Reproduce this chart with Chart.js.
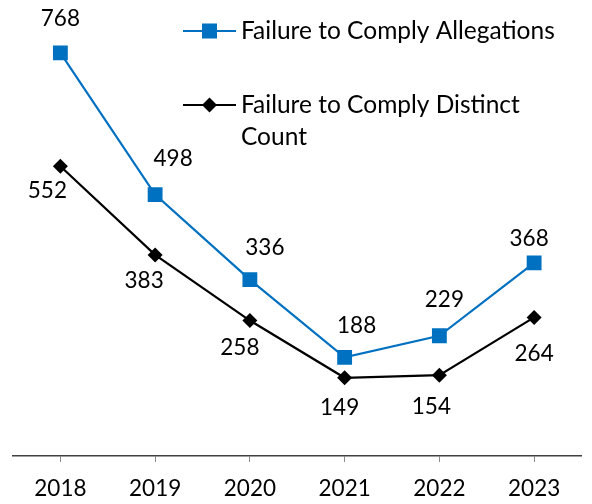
<!DOCTYPE html>
<html>
<head>
<meta charset="utf-8">
<script src="https://cdn.jsdelivr.net/npm/chart.js@4/dist/chart.umd.min.js"></script>
<style>
html,body{margin:0;padding:0;background:#fff;}
#wrap{width:592px;height:504px;position:relative;}
</style>
</head>
<body>
<div id="wrap"><canvas id="c" width="592" height="504"></canvas></div>
<script>
const categories = ['2018', '2019', '2020', '2021', '2022', '2023'];
const allegations = [768, 498, 336, 188, 229, 368];
const distinctCount = [552, 383, 258, 149, 154, 264];
const seriesNames = ['Failure to Comply Allegations', 'Failure to Comply Distinct Count'];

// label placement offsets (style only)
const labelOffsetsA = [[0,-34],[18,-36],[15,-32],[12,-32],[5,-36],[-5,-24]];
const labelOffsetsD = [[-13,25],[-11,26],[-10,27],[-5,30],[-8,32],[0,36]];

const FONT = 'Lato, "Open Sans", sans-serif';
const NUM_SIZE = 22.5;
const LEG_SIZE = 24.5;
const BLUE = '#0070C0';

const dataLabels = {
  id: 'dataLabels',
  afterDatasetsDraw(chart) {
    const ctx = chart.ctx;
    ctx.save();
    ctx.font = NUM_SIZE + 'px ' + FONT;
    ctx.fillStyle = '#000';
    ctx.textAlign = 'center';
    ctx.textBaseline = 'middle';
    const offs = [labelOffsetsA, labelOffsetsD];
    chart.data.datasets.forEach((ds, i) => {
      const meta = chart.getDatasetMeta(i);
      meta.data.forEach((pt, j) => {
        const o = offs[i][j];
        ctx.fillText(String(ds.data[j]), pt.x + o[0], pt.y + o[1]);
      });
    });
    ctx.restore();
  }
};

const customLegend = {
  id: 'customLegend',
  afterDraw(chart) {
    const ctx = chart.ctx;
    ctx.save();
    const items = [
      {lines: [seriesNames[0]], y: 31, color: BLUE, shape: 'rect'},
      {lines: ['Failure to Comply Distinct', 'Count'], y: 105, color: '#000', shape: 'diamond'}
    ];
    items.forEach(it => {
      ctx.strokeStyle = it.color;
      ctx.lineWidth = 2;
      ctx.beginPath();
      ctx.moveTo(183, it.y);
      ctx.lineTo(236, it.y);
      ctx.stroke();
      ctx.fillStyle = it.color;
      if (it.shape === 'rect') {
        ctx.fillRect(209.5 - 7.5, it.y - 7.5, 15, 15);
      } else {
        ctx.beginPath();
        ctx.moveTo(209.5, it.y - 7.5);
        ctx.lineTo(217, it.y);
        ctx.lineTo(209.5, it.y + 7.5);
        ctx.lineTo(202, it.y);
        ctx.closePath();
        ctx.fill();
      }
      ctx.fillStyle = '#000';
      ctx.font = LEG_SIZE + 'px ' + FONT;
      ctx.textAlign = 'left';
      ctx.textBaseline = 'middle';
      it.lines.forEach((t, k) => ctx.fillText(t, 241, it.y + k * 32));
    });
    ctx.restore();
  }
};

new Chart(document.getElementById('c'), {
  type: 'line',
  data: {
    labels: categories,
    datasets: [
      {
        label: seriesNames[0],
        data: allegations,
        borderColor: BLUE,
        backgroundColor: BLUE,
        borderWidth: 2.2,
        pointStyle: 'rect',
        pointRadius: 10.5,
        pointHoverRadius: 10.5,
        pointBorderWidth: 0,
        tension: 0
      },
      {
        label: seriesNames[1],
        data: distinctCount,
        borderColor: '#000',
        backgroundColor: '#000',
        borderWidth: 2.2,
        pointStyle: 'rectRot',
        pointRadius: 7.5,
        pointHoverRadius: 7.5,
        pointBorderWidth: 0,
        tension: 0
      }
    ]
  },
  options: {
    responsive: false,
    animation: false,
    devicePixelRatio: 1,
    layout: {padding: {top: 36, left: 13, right: 3, bottom: 0}},
    plugins: {legend: {display: false}, tooltip: {enabled: false}},
    scales: {
      x: {
        offset: true,
        afterFit(scale) { scale.height = 48; },
        grid: {display: true, drawOnChartArea: false, drawTicks: true, tickLength: 6, offset: false, color: '#8c8c8c'},
        border: {display: true, color: '#404040', width: 1.5},
        ticks: {color: '#000', font: {family: FONT, size: NUM_SIZE}, padding: 13, maxRotation: 0}
      },
      y: {
        display: false,
        min: 0,
        max: 800
      }
    }
  },
  plugins: [dataLabels, customLegend]
});
</script>
</body>
</html>
